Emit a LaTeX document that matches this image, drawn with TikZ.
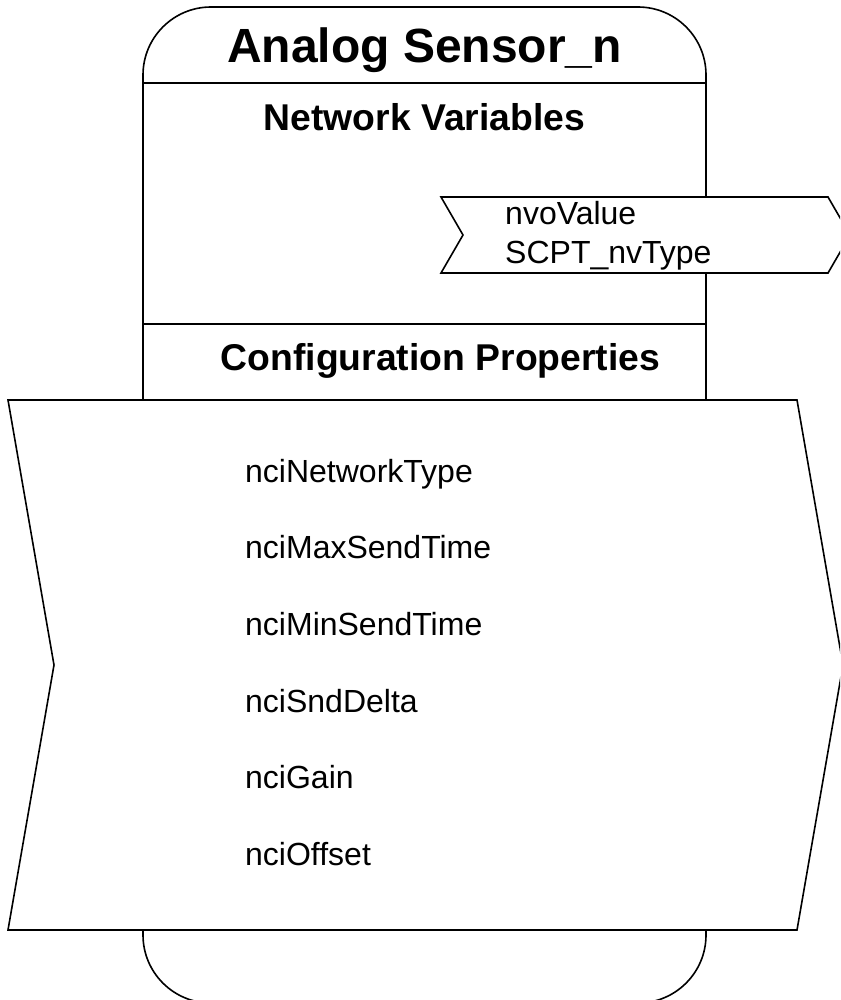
\documentclass[tikz,border=0pt]{standalone}
\usepackage{fontspec}
\setmainfont{Liberation Sans}
\begin{document}
\begin{tikzpicture}[x=1pt,y=-1pt,
  line/.style={line width=1.6pt, line join=miter},
  titletext/.style={font=\fontsize{48}{54}\selectfont\bfseries, anchor=base, inner sep=0pt},
  headtext/.style={font=\fontsize{37.3}{42}\selectfont\bfseries, anchor=base, inner sep=0pt},
  itemtext/.style={font=\fontsize{32}{36}\selectfont, anchor=base west, inner sep=0pt}]
\useasboundingbox (0,0) rectangle (840,1000);
\clip (0,0) rectangle (840,1000);
% outer rounded block
\draw[line, rounded corners=68pt] (143,7) rectangle (706,1003);
\draw[line] (143,83) -- (706,83);
\draw[line] (143,324) -- (706,324);
% network variable arrow
\draw[line, fill=white] (441,197) -- (828,197) -- (850,235) -- (828,273) -- (441,273) -- (463,235) -- cycle;
% configuration properties arrow
\draw[line, fill=white] (8,400) -- (797,400) -- (843,665) -- (797,930) -- (8,930) -- (54,665) -- cycle;
% texts
\node[titletext] (title) at (424.5,63) {Analog Sensor\_n};
\node[headtext] (nv) at (424.5,131) {Network Variables};
\node[headtext] (cp) at (440.5,370) {Configuration Properties};
\node[itemtext] (nvo1) at (505,225) {nvoValue};
\node[itemtext] (nvo2) at (505,263) {SCPT\_nvType};
\node[itemtext] (c1) at (245,482) {nciNetworkType};
\node[itemtext] (c2) at (245,558) {nciMaxSendTime};
\node[itemtext] (c3) at (245,635) {nciMinSendTime};
\node[itemtext] (c4) at (245,712) {nciSndDelta};
\node[itemtext] (c5) at (245,788) {nciGain};
\node[itemtext] (c6) at (245,865) {nciOffset};
\end{tikzpicture}
\end{document}
